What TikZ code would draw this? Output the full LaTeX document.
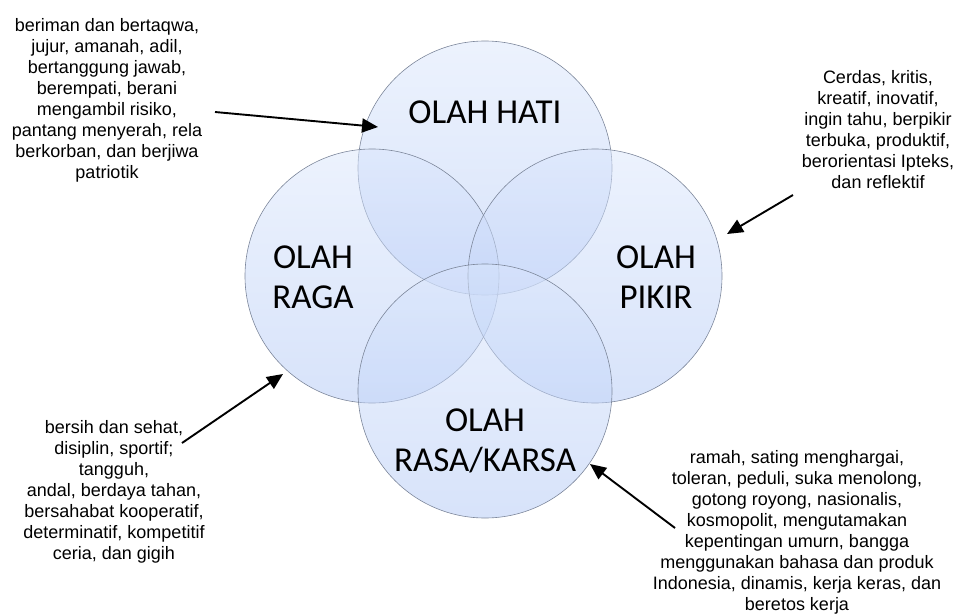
\documentclass[tikz,border=0pt]{standalone}
\usepackage{fontspec}
\setmainfont{Liberation Sans}
\newfontfamily\calibri{Carlito}
\usetikzlibrary{arrows.meta}
\definecolor{olahtop}{RGB}{218,230,252}
\definecolor{olahbot}{RGB}{176,199,245}
\definecolor{olahedge}{RGB}{125,135,155}
\tikzset{
  olah/.style={circle, minimum size=254pt, inner sep=0pt, top color=olahtop, bottom color=olahbot, fill opacity=0.5, draw=olahedge, draw opacity=1, line width=0.6pt},
  olahlbl/.style={align=center, font=\calibri\fontsize{35}{40}\selectfont},
  sifat/.style={align=center, font=\fontsize{18}{21}\selectfont},
  panah/.style={black, line width=1.9pt, -{Triangle[length=16pt,width=14pt]}}
}
\begin{document}
\begin{tikzpicture}[x=1pt,y=-1pt]
\useasboundingbox (0,0) rectangle (963,615);

\node[olah] (hati) at (485,168) {};
\node[olah] (raga) at (372,276) {};
\node[olah] (pikir) at (595,276) {};
\node[olah] (rasa) at (485,391) {};

\node[olahlbl] (hatiLbl) at (485,112) {OLAH HATI};
\node[olahlbl] (ragaLbl) at (313,277) {OLAH\\RAGA};
\node[olahlbl] (pikirLbl) at (656,277) {OLAH\\PIKIR};
\node[olahlbl] (rasaLbl) at (485,441) {OLAH\\RASA/KARSA};

\node[sifat] (hatiTxt) at (107,100) {beriman dan bertaqwa,\\jujur, amanah, adil,\\bertanggung jawab,\\berempati, berani\\mengambil risiko,\\pantang menyerah, rela\\berkorban, dan berjiwa\\patriotik};
\node[sifat] (pikirTxt) at (878,130) {Cerdas, kritis,\\kreatif, inovatif,\\ingin tahu, berpikir\\terbuka, produktif,\\berorientasi Ipteks,\\dan reflektif};
\node[sifat] (ragaTxt) at (114,492) {bersih dan sehat,\\disiplin, sportif;\\tangguh,\\andal, berdaya tahan,\\bersahabat kooperatif,\\determinatif, kompetitif\\ceria, dan gigih};
\node[sifat] (rasaTxt) at (797,532) {ramah, sating menghargai,\\toleran, peduli, suka menolong,\\gotong royong, nasionalis,\\kosmopolit, mengutamakan\\kepentingan umurn, bangga\\menggunakan bahasa dan produk\\Indonesia, dinamis, kerja keras, dan\\beretos kerja};

\coordinate (hatiA) at (215,112);
\coordinate (hatiB) at (378,127);
\coordinate (pikirA) at (793,195);
\coordinate (pikirB) at (727,234);
\coordinate (ragaA) at (182,443);
\coordinate (ragaB) at (283,374);
\coordinate (rasaA) at (675,528);
\coordinate (rasaB) at (590,464);

\draw[panah] (hatiA) -- (hatiB);
\draw[panah] (pikirA) -- (pikirB);
\draw[panah] (ragaA) -- (ragaB);
\draw[panah] (rasaA) -- (rasaB);
\end{tikzpicture}
\end{document}
